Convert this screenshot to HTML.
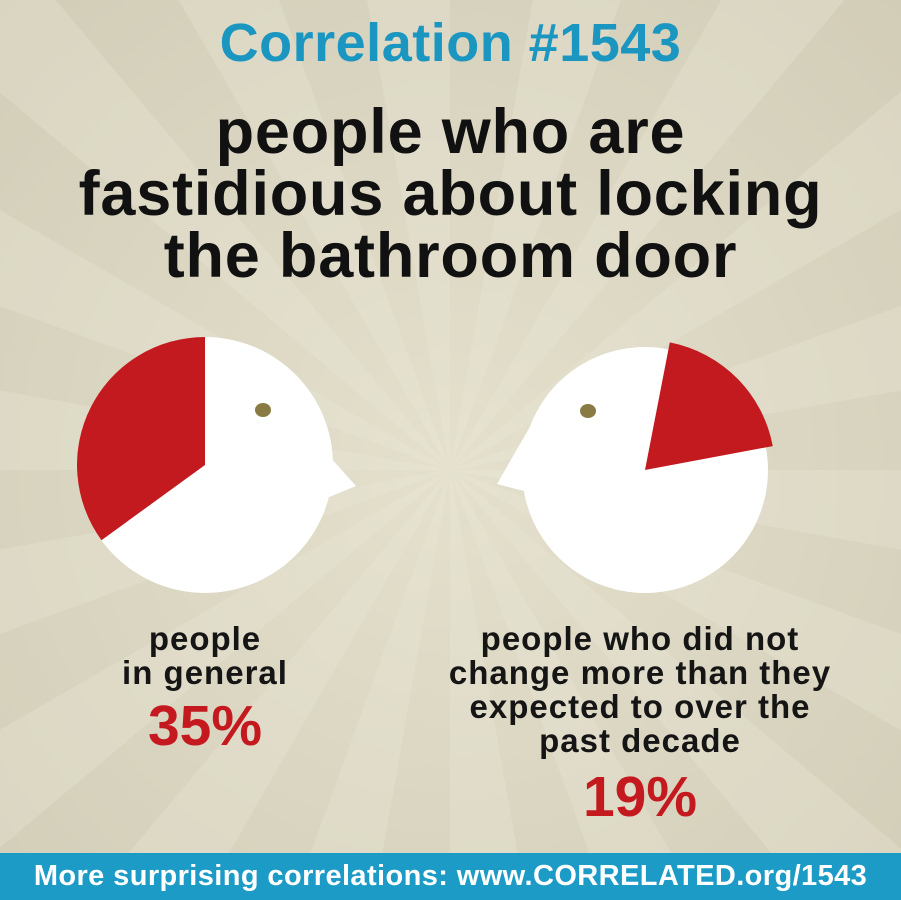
<!DOCTYPE html>
<html><head><meta charset="utf-8"><style>
html,body{margin:0;width:901px;height:900px;overflow:hidden;font-family:"Liberation Sans",sans-serif;}
.t{position:absolute;left:0;width:901px;text-align:center;font-weight:bold;white-space:nowrap;}
</style></head><body>
<div style="position:relative;width:901px;height:900px;overflow:hidden;background:#dcd8c4;">
<svg width="901" height="900" style="position:absolute;left:0;top:0">
<defs><radialGradient id="g" cx="450" cy="470" r="650" gradientUnits="userSpaceOnUse"><stop offset="0" stop-color="#e4e0cd"/><stop offset="1" stop-color="#d2cdb7"/></radialGradient></defs>
<rect width="901" height="900" fill="url(#g)"/>
<g id="rays" fill="#ece9d9" opacity="0.3"></g>
</svg>
<div class="t" style="top:12px;font-size:54px;line-height:62px;color:#1b96c0;letter-spacing:0.5px;">Correlation #1543</div>
<div class="t" style="top:101px;font-size:63px;line-height:62px;letter-spacing:0.8px;color:#111;">people who are<br>fastidious about locking<br>the bathroom door</div>
<svg id="pies" width="901" height="900" style="position:absolute;left:0;top:0"></svg>
<div style="position:absolute;left:55px;width:300px;top:622px;text-align:center;font-weight:bold;font-size:33px;line-height:34px;letter-spacing:1px;color:#151515;">people<br>in general</div>
<div style="position:absolute;left:55px;width:300px;top:694px;text-align:center;font-weight:bold;font-size:57px;line-height:64px;color:#c41a1f;">35%</div>
<div style="position:absolute;left:390px;width:500px;top:622px;text-align:center;font-weight:bold;font-size:33px;line-height:34px;letter-spacing:1px;color:#151515;">people who did not<br>change more than they<br>expected to over the<br>past decade</div>
<div style="position:absolute;left:390px;width:500px;top:765px;text-align:center;font-weight:bold;font-size:57px;line-height:64px;color:#c41a1f;">19%</div>
<div style="position:absolute;left:0;top:853px;width:901px;height:47px;background:#1b9bc6;"></div>
<div class="t" style="top:858px;font-size:29px;line-height:36px;letter-spacing:0.4px;color:#fff;">More surprising correlations: www.CORRELATED.org/1543</div>
</div>
<script>
const rg=document.getElementById('rays');
for(let i=0;i<36;i+=2){const a1=i*10*Math.PI/180,a2=(i+1)*10*Math.PI/180;
const p=document.createElementNS('http://www.w3.org/2000/svg','path');
p.setAttribute('d',`M450 470 L${450+1200*Math.cos(a1)} ${470+1200*Math.sin(a1)} L${450+1200*Math.cos(a2)} ${470+1200*Math.sin(a2)}Z`);


rg.appendChild(p);}

const labels=["people in general","people who did not change more than they expected"];
const values=[35,19];
const NS='http://www.w3.org/2000/svg';
const svg=document.getElementById('pies');
const cfg=[{cx:205,cy:465,r:128,dir:-1,start:0,beak:"M322 448 L356 486 L322 500Z",eye:[263,410]},
           {cx:645,cy:470,r:123,dir:1,start:11,beak:"M535 418 L497 484 L528 492Z",eye:[588,411]}];
function pt(c,ang,r){const a=ang*Math.PI/180;return [c.cx+r*Math.sin(a),c.cy-r*Math.cos(a)];}
function mk(tag,attrs,name){const e=document.createElementNS(NS,tag);for(const k in attrs)e.setAttribute(k,attrs[k]);


svg.appendChild(e);return e;}
values.forEach((v,i)=>{const c=cfg[i];
mk('path',{d:c.beak,fill:'#fff'},'beak');
mk('circle',{cx:c.cx,cy:c.cy,r:c.r,fill:'#fff'},'pie-head');
const span=v/100*360;const rr=c.r+(i?7:0);
const a0=c.start,a1=c.start+c.dir*span;
const p0=pt(c,a0,rr),p1=pt(c,a1,rr);
const sweep=c.dir>0?1:0;const large=span>180?1:0;
mk('path',{d:`M${c.cx} ${c.cy} L${p0[0]} ${p0[1]} A${rr} ${rr} 0 ${large} ${sweep} ${p1[0]} ${p1[1]}Z`,fill:'#c31a20'},'pie-slice-'+(i?'group':'general'));
mk('ellipse',{cx:c.eye[0],cy:c.eye[1],rx:8,ry:7,fill:'#8a7b45'},'eye');
});
</script>
</body></html>
